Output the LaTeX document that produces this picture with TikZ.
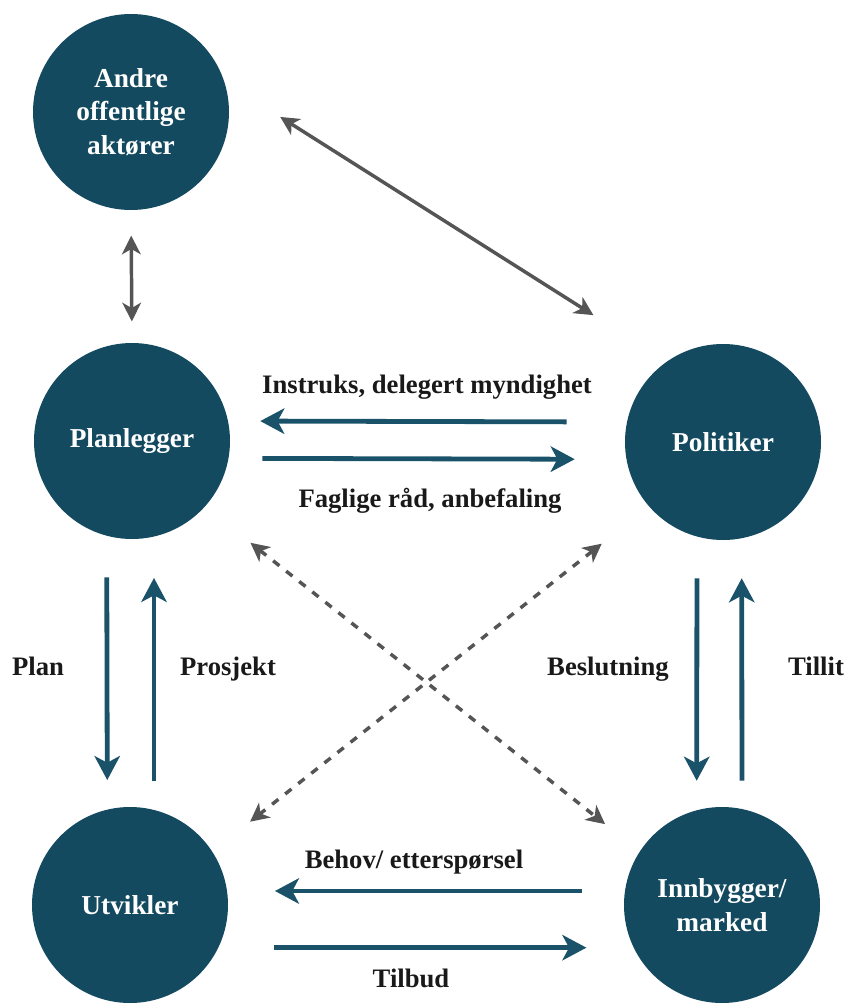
\documentclass[tikz,border=0pt]{standalone}
\usepackage{fontspec}
\setmainfont{Liberation Serif}
\usetikzlibrary{arrows.meta}

\definecolor{sirkelblaa}{RGB}{20,74,96}
\definecolor{pilblaa}{RGB}{26,82,106}
\definecolor{pilgraa}{RGB}{85,85,85}

\begin{document}
\begin{tikzpicture}[x=0.75pt,y=-0.75pt,
  aktor/.style={circle,fill=sirkelblaa,text=white,minimum size=147pt,inner sep=0pt,
    align=center,font=\bfseries\fontsize{20.5}{25}\selectfont},
  etikett/.style={anchor=base,inner sep=0pt,text=black!90,font=\bfseries\fontsize{20}{25}\selectfont},
  blaapil/.style={draw=pilblaa,line width=3.6pt,-{Stealth[length=18pt,width=19pt,inset=5pt]}},
  graapil/.style={draw=pilgraa,line width=2.6pt,{Stealth[length=14pt,width=14pt,inset=4pt]}-{Stealth[length=14pt,width=14pt,inset=4pt]}},
  stiplet/.style={graapil,dash pattern=on 6pt off 6.5pt}]
  \useasboundingbox (0,0) rectangle (853,1003);
  \node[aktor] (andre) at (131,112) {Andre\\offentlige\\aktører};
  \node[aktor] (planl) at (132,441) {Planlegger};
  \node[aktor] (polit) at (723,442) {Politiker};
  \node[aktor] (utvik) at (130,905) {Utvikler};
  \node[aktor] (innby) at (722,905) {Innbygger/\\marked};
  % grå forbindelser
  \draw[graapil,shorten <=19pt,shorten >=16pt] (andre.south) -- (planl.north);
  \draw[graapil,shorten <=49.5pt,shorten >=65pt] (andre.18) -- (polit.125);
  \draw[stiplet,shorten <=43.5pt,shorten >=33pt] (planl.-42) -- (innby.147);
  \draw[stiplet,shorten <=45pt,shorten >=36pt] (polit.-139) -- (utvik.33);
  % planlegger og politiker
  \draw[blaapil,shorten <=43.5pt,shorten >=22.5pt] ([yshift=15pt]polit.west) -- ([yshift=15pt]planl.east);
  \draw[blaapil,shorten <=24pt,shorten >=37.5pt] ([yshift=-13pt]planl.east) -- ([yshift=-13pt]polit.west);
  \node[etikett] (instruks) at (427,393) {Instruks, delegert myndighet};
  \node[etikett] (faglige) at (430,507) {Faglige råd, anbefaling};
  % planlegger og utvikler
  \draw[blaapil,shorten <=28.5pt,shorten >=20pt] ([xshift=-19pt]planl.south) -- ([xshift=-17pt]utvik.north);
  \draw[blaapil,shorten <=19pt,shorten >=29pt] ([xshift=18pt]utvik.north) -- ([xshift=16.5pt]planl.south);
  \node[etikett] (plan) at (38,675) {Plan};
  \node[etikett] (prosjekt) at (228,675) {Prosjekt};
  % politiker og innbygger
  \draw[blaapil,shorten <=28.5pt,shorten >=19.5pt] ([xshift=-19.5pt]polit.south) -- ([xshift=-19pt]innby.north);
  \draw[blaapil,shorten <=19.5pt,shorten >=28.5pt] ([xshift=15pt]innby.north) -- ([xshift=14pt]polit.south);
  \node[etikett] (beslutning) at (608,675) {Beslutning};
  \node[etikett] (tillit) at (816,675) {Tillit};
  % innbygger og utvikler
  \draw[blaapil,shorten <=31.5pt,shorten >=35pt] ([yshift=10.5pt]innby.west) -- ([yshift=10.5pt]utvik.east);
  \draw[blaapil,shorten <=34pt,shorten >=28pt] ([yshift=-32pt]utvik.east) -- ([yshift=-32pt]innby.west);
  \node[etikett] (behov) at (414,868) {Behov/ etterspørsel};
  \node[etikett] (tilbud) at (411,987) {Tilbud};
\end{tikzpicture}
\end{document}
